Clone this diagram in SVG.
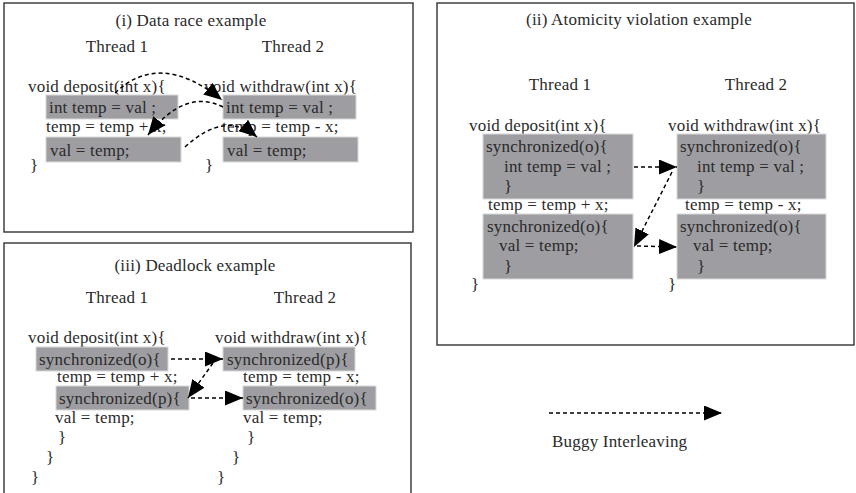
<svg xmlns="http://www.w3.org/2000/svg" width="856" height="493" viewBox="0 0 856 493">
<style>
text{font-family:"Liberation Serif","Times New Roman",serif;font-size:17px;fill:#2a2a2a;letter-spacing:0.2px}
.c{text-anchor:middle}
.panel{fill:#fff;stroke:#333;stroke-width:1.4}
.box{fill:#9e9ea2;stroke:#d8d8d8;stroke-width:1}
.arr{fill:none;stroke:#000;stroke-width:1.5;stroke-dasharray:4 3;marker-end:url(#ah)}
</style>
<defs>
<marker id="ah" viewBox="0 0 18 15" refX="18" refY="7.5" markerWidth="18" markerHeight="15" markerUnits="userSpaceOnUse" orient="auto">
<path d="M0,0 L18,7.5 L0,15 z" fill="#000"/>
</marker>
</defs>
<rect width="856" height="493" fill="#fff"/>

<g id="panel-i">
<rect class="panel" x="4" y="3" width="409" height="229"/>
<text class="c" x="191" y="26">(i) Data race example</text>
<text class="c" x="117" y="52">Thread 1</text>
<text class="c" x="293" y="52">Thread 2</text>
<text x="28" y="92">void deposit(int x){</text>
<rect class="box" x="46" y="95" width="132" height="24"/>
<text x="49" y="113">int temp = val ;</text>
<text x="46" y="132">temp = temp + x;</text>
<rect class="box" x="46" y="137" width="135" height="25"/>
<text x="50" y="156">val = temp;</text>
<text x="30" y="171">}</text>
<text x="204" y="92">void withdraw(int x){</text>
<rect class="box" x="223" y="95" width="133" height="24"/>
<text x="226" y="113">int temp = val ;</text>
<text x="222" y="132">temp = temp - x;</text>
<rect class="box" x="223" y="137" width="135" height="25"/>
<text x="227" y="156">val = temp;</text>
<text x="205" y="171">}</text>
</g>

<g id="panel-iii">
<rect class="panel" x="4" y="243" width="407" height="255"/>
<text class="c" x="195" y="271">(iii) Deadlock example</text>
<text class="c" x="117" y="303">Thread 1</text>
<text class="c" x="305" y="303">Thread 2</text>
<text x="28" y="343">void deposit(int x){</text>
<rect class="box" x="36" y="347" width="132" height="24"/>
<text x="39" y="365">synchronized(o){</text>
<text x="57" y="382">temp = temp + x;</text>
<rect class="box" x="56" y="386" width="133" height="24"/>
<text x="59" y="404">synchronized(p){</text>
<text x="55" y="423">val = temp;</text>
<text x="58" y="443">}</text>
<text x="46" y="463">}</text>
<text x="31" y="483">}</text>
<text x="215" y="343">void withdraw(int x){</text>
<rect class="box" x="223" y="347" width="132" height="24"/>
<text x="227" y="365">synchronized(p){</text>
<text x="243" y="382">temp = temp - x;</text>
<rect class="box" x="243" y="386" width="133" height="24"/>
<text x="246" y="404">synchronized(o){</text>
<text x="243" y="423">val = temp;</text>
<text x="247" y="443">}</text>
<text x="232" y="463">}</text>
<text x="217" y="483">}</text>
</g>

<g id="panel-ii">
<rect class="panel" x="437" y="3" width="417" height="342"/>
<text class="c" x="639" y="25">(ii) Atomicity violation example</text>
<text class="c" x="560" y="90">Thread 1</text>
<text class="c" x="756" y="90">Thread 2</text>
<text x="469" y="131">void deposit(int x){</text>
<rect class="box" x="483" y="134" width="150" height="65"/>
<text x="486" y="152">synchronized(o){</text>
<text x="504" y="172">int temp = val ;</text>
<text x="504" y="192">}</text>
<text x="488" y="210">temp = temp + x;</text>
<rect class="box" x="483" y="214" width="150" height="65"/>
<text x="487" y="232">synchronized(o){</text>
<text x="499" y="251">val = temp;</text>
<text x="504" y="272">}</text>
<text x="471" y="290">}</text>
<text x="668" y="131">void withdraw(int x){</text>
<rect class="box" x="677" y="134" width="149" height="65"/>
<text x="680" y="152">synchronized(o){</text>
<text x="697" y="172">int temp = val ;</text>
<text x="697" y="192">}</text>
<text x="685" y="210">temp = temp - x;</text>
<rect class="box" x="677" y="214" width="149" height="65"/>
<text x="680" y="232">synchronized(o){</text>
<text x="693" y="251">val = temp;</text>
<text x="697" y="272">}</text>
<text x="668" y="290">}</text>
</g>

<g id="legend">
<path class="arr" d="M549,413 L722,413"/>
<text x="552" y="447">Buggy Interleaving</text>
</g>

<g id="connectors">
<path class="arr" d="M115,93 Q160,50 222,100"/>
<path class="arr" d="M223,107 Q185,88 148,135"/>
<path class="arr" d="M185,147 Q225,110 257,137"/>
<path class="arr" d="M171,359 L223,359"/>
<path class="arr" d="M213,363 L188,398"/>
<path class="arr" d="M191,398 L243,398"/>
<path class="arr" d="M634,167 L677,167"/>
<path class="arr" d="M672,172 L634,247"/>
<path class="arr" d="M637,246 L677,247"/>
</g>
</svg>
